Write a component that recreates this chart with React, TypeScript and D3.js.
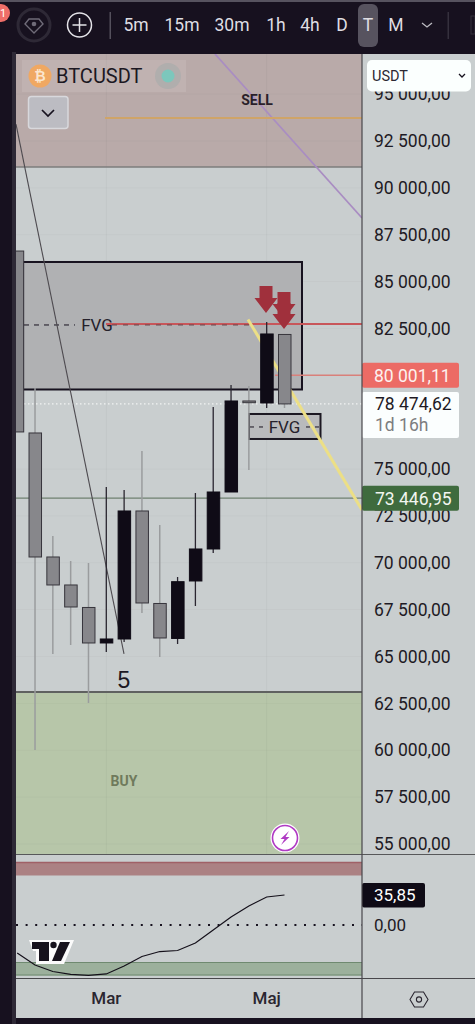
import React from "react";
import * as d3 from "d3";

const opens = [86630, 76925, 70310, 68817, 67617, 65723, 65936, 72764, 67830, 65964, 69030, 70737, 73777, 78632, 78525, 82180];
const closes = [76980, 70310, 68817, 67643, 65723, 65936, 72764, 67857, 65990, 68993, 70737, 73777, 78632, 78540, 82206, 78474];
const highs = [86630, 79325, 71431, 70097, 69990, 74044, 73884, 75965, 72017, 69243, 73724, 78312, 79485, 79432, 82846, 82206];
const lows = [76980, 60016, 65136, 65616, 62523, 65243, 65776, 67323, 64976, 65670, 67697, 70523, 73777, 74951, 78258, 78258];
const oscValues = [-33.5, -47.8, -55.6, -59.1, -60.3, -58.5, -49, -37.6, -31.7, -30.5, -21.5, -6, 9.6, 22.7, 33.5, 35.85];
const priceTicks = [95000, 92500, 90000, 87500, 85000, 82500, 75000, 72500, 70000, 67500, 65000, 62500, 60000, 57500, 55000];
const intervals = ["5m", "15m", "30m", "1h", "4h", "D", "T", "M"];
const intervalX = [136, 182, 232, 276, 310, 342, 368, 396];
const months = [{ label: "Mar", idx: 5 }, { label: "Maj", idx: 14 }];
const lastPrice = 78474.62, sellLevel = 80001.11, buyLevel = 73446.95, oscLast = 35.85;
const sellZone = [97140, 91113];
const buyZone = [63110, 54468];
const fvgZone = [86046, 79245];
const fvgSmall = [77938, 76605];
const fvgMid = 82686, fvgSmallMid = 77245, resistance = 82739, sellTarget = 93727;

const y = d3.scaleLinear().domain([92500, 55000]).range([141, 844]);
const x = d3.scaleLinear().domain([0, 15]).range([17.2, 284.5]);
const oy = d3.scaleLinear().domain([0, 35.85]).range([925, 895]);
const fmt = d3.formatLocale({ decimal: ",", thousands: " ", grouping: [3], currency: ["", ""] }).format(",.2f");

const FONT = "Roboto, sans-serif";
const L = 16, R = 362;
const INK = "#17121f";

function arrow(cx: number, top: number, shaftEnd: number, tip: number) {
  return `M${cx - 6.5},${top}H${cx + 6.5}V${shaftEnd}H${cx + 11.5}L${cx},${tip}L${cx - 11.5},${shaftEnd}H${cx - 6.5}Z`;
}

export default function App() {
  const osc = d3.line<number>().x((_, i) => x(i)).y((d) => oy(d)).curve(d3.curveLinear)(oscValues) as string;
  return (
    <svg width={475} height={1024} viewBox="0 0 475 1024" style={{ position: "absolute", left: 0, top: 0, display: "block" }} fontFamily={FONT}>
      <defs>
        <clipPath id="plot"><rect x={L} y={54} width={R - L} height={800} /></clipPath>
        <clipPath id="oscClip"><rect x={L} y={855} width={R - L} height={123} /></clipPath>
        <clipPath id="scale"><rect x={R} y={54} width={113} height={800} /></clipPath>
      </defs>
      <rect width={475} height={1024} fill="#17111f" />
      <rect x={0} y={0} width={475} height={2} fill="#57535f" />
      <rect x={12} y={52} width={4} height={972} fill="#2e2936" />
      <rect x={L} y={54} width={459} height={964} fill="#c9cecf" />

      {/* toolbar */}
      <circle cx={1} cy={13} r={9} fill="#ee6e68" />
      <text x={3} y={17} fontSize={11} fill="#fff" textAnchor="middle">1</text>
      <circle cx={34} cy={25} r={16} fill="none" stroke="#2e2936" strokeWidth={3} />
      <path d="M25,24 L29,19 H39 L43,24 L34,33 Z" fill="none" stroke="#6f6b78" strokeWidth={1.4} />
      <circle cx={34} cy={24} r={2.3} fill="#6f6b78" />
      <circle cx={79.5} cy={25} r={12} fill="none" stroke="#e4e3e8" strokeWidth={1.5} />
      <path d="M79.5,18V32M72.5,25H86.5" stroke="#e4e3e8" strokeWidth={1.5} />
      <rect x={109.5} y={12} width={1.5} height={27} fill="#54505c" />
      <rect x={358} y={4} width={20} height={43} rx={6} fill="#57535f" />
      {intervals.map((t, i) => (
        <text key={t} x={intervalX[i]} y={31} fontSize={17.5} fill="#dfdee3" textAnchor="middle">{t}</text>
      ))}
      <path d="M422,23L427,27L432,23" fill="none" stroke="#bdbcc2" strokeWidth={1.3} />
      <rect x={447.5} y={12} width={1.5} height={27} fill="#35303d" />
      <rect x={471} y={16} width={4} height={18} fill="none" stroke="#35303d" />

      {/* plot */}
      <g clipPath="url(#plot)">
        <rect x={L} y={y(sellZone[0])} width={R - L} height={y(sellZone[1]) - y(sellZone[0])} fill="#b9aaa9" />
        <rect x={L} y={y(buyZone[0])} width={R - L} height={y(buyZone[1]) - y(buyZone[0])} fill="#b7c6a9" />
        {months.map((m) => (<line key={m.label} x1={x(m.idx)} x2={x(m.idx)} y1={54} y2={854} stroke="#000" strokeOpacity={0.035} />))}
        {priceTicks.map((p) => (<line key={p} x1={L} x2={R} y1={y(p)} y2={y(p)} stroke="#000" strokeOpacity={0.025} />))}
        <line x1={L} x2={R} y1={y(sellZone[1])} y2={y(sellZone[1])} stroke="#7d7c7d" strokeWidth={1.5} />
        <line x1={L} x2={R} y1={y(buyZone[0])} y2={y(buyZone[0])} stroke="#5f6160" strokeWidth={2} />

        <line x1={215} y1={y(97140)} x2={R} y2={y(88393)} stroke="#a98dc2" strokeWidth={1.8} />
        <line x1={105} x2={R} y1={y(sellTarget)} y2={y(sellTarget)} stroke="#cfa468" strokeWidth={1.8} />
        <text x={257} y={105} fontSize={14} fontWeight={700} fill="#2a1f2a" textAnchor="middle">SELL</text>

        <rect x={23} y={y(fvgZone[0])} width={279} height={y(fvgZone[1]) - y(fvgZone[0])} fill="#b0b1b3" stroke={INK} strokeWidth={2} />
        <line x1={24} x2={75} y1={y(fvgMid)} y2={y(fvgMid)} stroke={INK} strokeDasharray="5 5" />
        <text x={97} y={331} fontSize={17} fill="#25212b" textAnchor="middle">FVG</text>
        <line x1={106} x2={R} y1={y(resistance)} y2={y(resistance)} stroke="#c8565a" strokeWidth={2} />
        <line x1={112} x2={250} y1={y(fvgMid)} y2={y(fvgMid)} stroke="#6a4248" strokeDasharray="5 6" />
        <line x1={275} x2={R} y1={y(sellLevel)} y2={y(sellLevel)} stroke="#d9807b" strokeWidth={1.4} />
        <line x1={L} x2={R} y1={y(buyLevel)} y2={y(buyLevel)} stroke="#6f8070" strokeWidth={1.2} />
        <line x1={L} x2={R} y1={y(lastPrice)} y2={y(lastPrice)} stroke="#f2f4f4" strokeWidth={1.2} strokeDasharray="1.5 2.5" />

        <line x1={16} y1={y(93400)} x2={124} y2={y(65136)} stroke="#4d4a4f" strokeWidth={1.1} />

        <rect x={249} y={y(fvgSmall[0])} width={71.5} height={y(fvgSmall[1]) - y(fvgSmall[0])} fill="#b9babc" stroke="#1c1822" strokeWidth={2} />
        <line x1={250} x2={264} y1={y(fvgSmallMid)} y2={y(fvgSmallMid)} stroke={INK} strokeDasharray="4 5" />
        <line x1={306} x2={319} y1={y(fvgSmallMid)} y2={y(fvgSmallMid)} stroke={INK} strokeDasharray="4 5" />
        <text x={284.5} y={433} fontSize={17} fill="#25212b" textAnchor="middle">FVG</text>
        <line x1={248} y1={y(82980)} x2={R} y2={y(72818)} stroke="#ecdf86" strokeWidth={3} />

        {opens.map((o, i) => {
          const c = closes[i];
          const up = c >= o;
          const top = y(Math.max(o, c));
          const h = Math.max(1.5, Math.abs(y(o) - y(c)));
          return (
            <g key={i}>
              <line x1={x(i)} x2={x(i)} y1={y(highs[i])} y2={y(lows[i])} stroke={up ? "#2a2630" : "#9a9c9e"} strokeWidth={up ? 1.3 : 1.5} />
              <rect x={x(i) - 6} y={top} width={12.5} height={h} fill={up ? "#0f0b16" : "#87878b"} stroke={up ? "#0f0b16" : "#37353c"} strokeWidth={1} />
            </g>
          );
        })}

        <path d={arrow(266, 286, 298, 313)} fill="#a0303c" />
        <path d={arrow(284, 292, 304, 319)} fill="#a0303c" />
        <path d={arrow(284, 303, 314, 329)} fill="#a0303c" />

        <text x={124} y={688} fontSize={23} fill="#1c1822" textAnchor="middle" fontFamily="Liberation Sans, sans-serif">5</text>
        <text x={124} y={786} fontSize={14} fontWeight={700} fill="#6f7a5c" textAnchor="middle">BUY</text>

        <circle cx={285} cy={838} r={14.5} fill="#fff" />
        <circle cx={285} cy={838} r={12.5} fill="#fff" stroke="#b03bc4" strokeWidth={1.6} />
        <path d="M289,831L280.5,839H284.5L281,845L289.5,837H285.5Z" fill="#b03bc4" />
      </g>

      {/* legend */}
      <rect x={22} y={60} width={164} height={32} fill="#fff" fillOpacity={0.1} />
      <circle cx={40} cy={76} r={11.5} fill="#f0a862" />
      <text x={40} y={81} fontSize={14} fontWeight={700} fill="#fbe6cf" textAnchor="middle">₿</text>
      <text x={56} y={83} fontSize={20} fill="#1c1822">BTCUSDT</text>
      <circle cx={168} cy={76} r={13} fill="#9fa9a9" fillOpacity={0.5} />
      <circle cx={168} cy={76} r={6.5} fill="#7cc7bc" />
      <rect x={28.5} y={96.5} width={39.5} height={32} rx={3} fill="#bcbcc2" stroke="#d8d8dc" strokeWidth={1.5} />
      <path d="M42,110L48,116L54,110" fill="none" stroke="#17121f" strokeWidth={1.7} />

      {/* price scale */}
      <g clipPath="url(#scale)" fontSize={17.5} fill="#1e1a24">
        {priceTicks.map((p) => (
          <text key={p} x={374} y={y(p) + 6.2}>{fmt(p)}</text>
        ))}
      </g>
      <rect x={367} y={60} width={104} height={31.5} rx={5} fill="#fbfffe" />
      <text x={372} y={81} fontSize={14.5} fill="#2c2833">USDT</text>
      <path d="M459,74L462,77L465,74" fill="none" stroke="#17121f" strokeWidth={1.3} />

      <rect x={R} y={y(sellLevel) - 12.5} width={97} height={25} rx={2} fill="#ec6b65" />
      <text x={374} y={y(sellLevel) + 6.5} fontSize={17.5} fill="#fdf1ef">{fmt(sellLevel)}</text>
      <rect x={R} y={392} width={97} height={46} rx={2} fill="#fbfefe" />
      <text x={375} y={410} fontSize={17.5} fill="#1e1a24">{fmt(lastPrice)}</text>
      <text x={375} y={431} fontSize={17.5} fill="#7d7d80">1d 16h</text>
      <rect x={R} y={y(buyLevel) - 12.5} width={97} height={25} rx={2} fill="#3f6b3e" />
      <text x={375} y={y(buyLevel) + 6.5} fontSize={17.5} fill="#f2f6f0">{fmt(buyLevel)}</text>

      {/* oscillator pane */}
      <line x1={L} x2={475} y1={854.5} y2={854.5} stroke="#57585a" strokeWidth={1.2} />
      <g clipPath="url(#oscClip)">
        <rect x={L} y={862} width={R - L} height={13.5} fill="#ab8183" />
        <line x1={L} x2={R} y1={862.5} y2={862.5} stroke="#a06066" strokeWidth={1.5} />
        <rect x={L} y={962} width={R - L} height={13.5} fill="#9cb09c" />
        <line x1={L} x2={R} y1={962.5} y2={962.5} stroke="#6f8a70" strokeWidth={1} />
        <line x1={L} x2={R} y1={975} y2={975} stroke="#6f8a70" strokeWidth={1} />
        <line x1={L} x2={R} y1={oy(0)} y2={oy(0)} stroke="#17121f" strokeWidth={2} strokeDasharray="2 7.6" />
        <path d="M29,940H74L64,964H36V951H33Z" fill="#fbfbfb" />
        <path d="M32,942H49V961H39V949H32Z" fill="#16121c" />
        <circle cx={53.5} cy={945} r={3.2} fill="#16121c" />
        <path d="M60,942H70L61,961H52Z" fill="#16121c" />
        <path d={osc} fill="none" stroke="#14101a" strokeWidth={1.2} />
      </g>
      <rect x={R} y={883} width={63} height={24.5} rx={2} fill="#0f0b16" />
      <text x={374} y={901} fontSize={17} fill="#fff">{oscLast.toFixed(2).replace(".", ",")}</text>
      <text x={374} y={931} fontSize={17} fill="#1e1a24">0,00</text>

      {/* axes */}
      <line x1={L} x2={475} y1={978.5} y2={978.5} stroke="#48474b" strokeWidth={1.2} />
      <line x1={R} x2={R} y1={54} y2={1018} stroke="#48474b" strokeWidth={1.2} />
      {months.map((m) => (
        <text key={m.label} x={x(m.idx)} y={1004} fontSize={17} fontWeight={500} fill="#2a2630" textAnchor="middle">{m.label}</text>
      ))}
      <path d="M410,999.5L414.5,992H423.5L428,999.5L423.5,1007H414.5Z" fill="none" stroke="#2a2630" strokeWidth={1.1} />
      <circle cx={419} cy={999.5} r={2.6} fill="none" stroke="#2a2630" strokeWidth={1.1} />
    </svg>
  );
}
